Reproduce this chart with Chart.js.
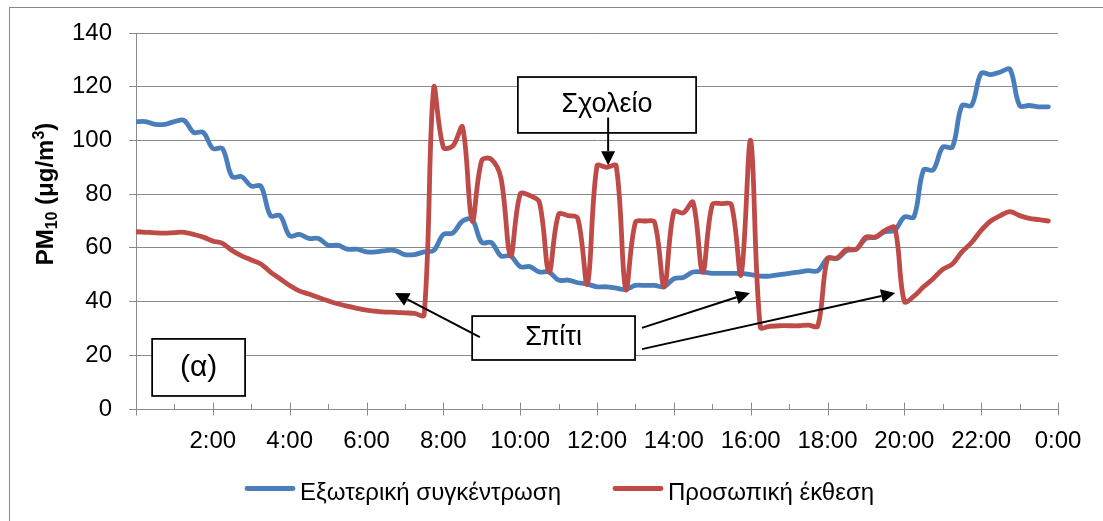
<!DOCTYPE html>
<html><head><meta charset="utf-8">
<script src="https://cdn.jsdelivr.net/npm/chart.js@4.4.0/dist/chart.umd.min.js"></script>
<style>html,body{margin:0;padding:0;background:#fff;overflow:hidden}canvas{display:block}</style>
</head><body><canvas id="c" width="1103" height="521"></canvas>
<script>
// ---- data (time of day in hours, 15-minute readings) ----
const hours = [0,0.25,0.5,0.75,1,1.25,1.5,1.75,2,2.25,2.5,2.75,3,3.25,3.5,3.75,
  4,4.25,4.5,4.75,5,5.25,5.5,5.75,6,6.25,6.5,6.75,7,7.25,7.5,7.75,
  8,8.25,8.5,8.75,9,9.25,9.5,9.75,10,10.25,10.5,10.75,11,11.25,11.5,11.75,
  12,12.25,12.5,12.75,13,13.25,13.5,13.75,14,14.25,14.5,14.75,15,15.25,15.5,15.75,
  16,16.25,16.5,16.75,17,17.25,17.5,17.75,18,18.25,18.5,18.75,19,19.25,19.5,19.75,
  20,20.25,20.5,20.75,21,21.25,21.5,21.75,22,22.25,22.5,22.75,23,23.25,23.5,23.75];
const outdoor = [107,107,106,106,107,107.5,103,103,97,97,86.5,86.5,83,83,72,72,
  64.5,65,63.5,63.5,61,61,59.5,59.5,58.5,58.5,59,59,57.5,57.5,58.5,59,
  65,65.5,70,70.5,62,62,57,57,53,53,51,51,48,48,47,46.5,
  45.5,45.5,45,44.5,46,46,46,45.5,48.5,49,51,51,50.5,50.5,50.5,50.5,
  50,49.5,49.5,50,50.5,51,51.5,51.5,56,56,59,59.5,63.5,64,66,66.5,
  71.5,71.5,89,89,97.5,97.5,113,113,125,124.5,125.5,126.5,113,113,112.5,112.5];
const personal = [66,65.8,65.6,65.5,65.7,65.8,65,64,62.5,61.7,59,57,55.5,54,51,48.5,
  46,44,42.8,41.5,40.3,39.2,38.3,37.5,36.8,36.4,36.1,36,35.8,35.6,35,119.5,
  97.5,98,105,70,92.5,93,86,57,80,79.5,77,51,72.5,72,71,46.5,
  90.5,90,90.5,44.5,69.5,70,69.5,45.5,73.5,73,77,51,76,76.5,76,50,
  100,30.5,30.8,31,31,31,31.2,31,56,56.3,59.5,59.5,64,64,66.5,67.5,
  40,42,45.5,48.5,52,54,58.5,62,66.5,70,72,73.5,72,71,70.5,70];
const seriesNames = ['Εξωτερική συγκέντρωση', 'Προσωπική έκθεση'];
const seriesColors = ['#4a7ebb', '#be4b48'];
const xTickHours = [0,2,4,6,8,10,12,14,16,18,20,22,24];
const xTickLabels = ['','2:00','4:00','6:00','8:00','10:00','12:00','14:00','16:00','18:00','20:00','22:00','0:00'];
const xMinorHours = [1,3,5,7,9,11,13,15,17,19,21,23];
const yMin = 0, yMax = 140, yStep = 20;
const yTitleParts = [['PM',0],['10',1],[' (μg/m',0],['3',2],[')',0]];
// annotations in data units (hours, µg/m3)
const noteBoxes = [
  {text:'Σχολείο', x0:9.94, x1:14.58, y0:123.6, y1:102.8, size:27},
  {text:'Σπίτι',   x0:8.75, x1:12.99, y0:34.6,  y1:18.25, size:27},
  {text:'(α)',     x0:0.42, x1:2.84,  y0:26.1,  y1:4.85,  size:30}
];
const noteArrows = [
  {x0:12.29, y0:108.5, x1:12.29, y1:90.8},
  {x0:8.95,  y0:26.8,  x1:6.74,  y1:43.2},
  {x0:13.17, y0:30.2,  x1:15.98, y1:43.2},
  {x0:13.17, y0:22.3,  x1:19.76, y1:43.2}
];

const FONT = "'Liberation Sans', Arial, sans-serif";
const gridColor = '#8a8a8a';
const toXY = (xs, ys) => xs.map((x, i) => ({x: x, y: ys[i]}));

const decor = {
  id: 'decor',
  afterDraw(chart) {
    const ctx = chart.ctx, xs = chart.scales.x, ys = chart.scales.y, ca = chart.chartArea;
    ctx.save();
    // outer frame
    ctx.strokeStyle = gridColor; ctx.lineWidth = 1;
    ctx.strokeRect(9.5, 7.5, 1120, 530);
    // x tick marks
    const yb = Math.round(ca.bottom) + 0.5;
    ctx.beginPath();
    xTickHours.forEach(h => { const px = Math.round(xs.getPixelForValue(h)) + 0.5; ctx.moveTo(px, yb - 7); ctx.lineTo(px, yb + 6); });
    xMinorHours.forEach(h => { const px = Math.round(xs.getPixelForValue(h)) + 0.5; ctx.moveTo(px, yb - 5.5); ctx.lineTo(px, yb); });
    ctx.stroke();
    // y axis title
    ctx.save();
    ctx.translate(45, 194);
    ctx.rotate(-Math.PI / 2);
    ctx.fillStyle = '#000'; ctx.textBaseline = 'alphabetic'; ctx.textAlign = 'left';
    const fonts = ['bold 24px ' + FONT, 'bold 16px ' + FONT, 'bold 16px ' + FONT];
    const offs = [0, 4, -9];
    let total = 0;
    yTitleParts.forEach(p => { ctx.font = fonts[p[1]]; total += ctx.measureText(p[0]).width; });
    let cx = -total / 2;
    yTitleParts.forEach(p => { ctx.font = fonts[p[1]]; ctx.fillText(p[0], cx, 8 + offs[p[1]]); cx += ctx.measureText(p[0]).width; });
    ctx.restore();
    // legend
    ctx.font = '24px ' + FONT; ctx.textBaseline = 'alphabetic'; ctx.textAlign = 'left'; ctx.fillStyle = '#000';
    const legX = [245, 613];
    seriesNames.forEach((name, i) => {
      ctx.strokeStyle = seriesColors[i]; ctx.lineWidth = 4.8; ctx.lineCap = 'round';
      ctx.beginPath(); ctx.moveTo(legX[i] + 2, 488.5); ctx.lineTo(legX[i] + 48, 488.5); ctx.stroke();
      ctx.fillText(name, legX[i] + 55, 499.5);
    });
    ctx.lineCap = 'butt';
    // annotation boxes
    noteBoxes.forEach(b => {
      const x0 = xs.getPixelForValue(b.x0), x1 = xs.getPixelForValue(b.x1);
      const y0 = ys.getPixelForValue(b.y0), y1 = ys.getPixelForValue(b.y1);
      ctx.fillStyle = '#fff'; ctx.fillRect(x0, y0, x1 - x0, y1 - y0);
      ctx.strokeStyle = '#000'; ctx.lineWidth = 1.75; ctx.strokeRect(x0, y0, x1 - x0, y1 - y0);
      ctx.fillStyle = '#000'; ctx.font = b.size + 'px ' + FONT; ctx.textAlign = 'center'; ctx.textBaseline = 'middle';
      ctx.fillText(b.text, (x0 + x1) / 2, (y0 + y1) / 2);
    });
    // arrows
    noteArrows.forEach(a => {
      const x0 = xs.getPixelForValue(a.x0), x1 = xs.getPixelForValue(a.x1);
      const y0 = ys.getPixelForValue(a.y0), y1 = ys.getPixelForValue(a.y1);
      const ang = Math.atan2(y1 - y0, x1 - x0), L = 14, W = 7;
      const bx = x1 - L * Math.cos(ang), by = y1 - L * Math.sin(ang);
      ctx.strokeStyle = '#000'; ctx.lineWidth = 2;
      ctx.beginPath(); ctx.moveTo(x0, y0); ctx.lineTo(bx, by); ctx.stroke();
      ctx.fillStyle = '#000'; ctx.beginPath();
      ctx.moveTo(x1, y1);
      ctx.lineTo(bx + W * Math.sin(ang), by - W * Math.cos(ang));
      ctx.lineTo(bx - W * Math.sin(ang), by + W * Math.cos(ang));
      ctx.closePath(); ctx.fill();
    });
    ctx.restore();
  }
};

new Chart(document.getElementById('c'), {
  type: 'line',
  data: { datasets: [
    { label: seriesNames[0], data: toXY(hours, outdoor), borderColor: seriesColors[0], borderWidth: 4.8,
      pointRadius: 0, tension: 0.35, fill: false, borderCapStyle: 'round', borderJoinStyle: 'round', order: 2 },
    { label: seriesNames[1], data: toXY(hours, personal), borderColor: seriesColors[1], borderWidth: 4.8,
      pointRadius: 0, tension: 0.35, fill: false, borderCapStyle: 'round', borderJoinStyle: 'round', order: 1 }
  ]},
  options: {
    responsive: false, animation: false, devicePixelRatio: 1,
    layout: { padding: { left: 0, right: 45, top: 33, bottom: 0 } },
    plugins: { legend: { display: false }, tooltip: { enabled: false } },
    scales: {
      x: {
        type: 'linear', min: 0, max: 24,
        afterBuildTicks: s => { s.ticks = xTickHours.map(v => ({ value: v })); },
        afterFit: s => { s.height = 112; },
        ticks: { autoSkip: false, maxRotation: 0, color: '#000', padding: 18,
          font: { family: FONT, size: 24 },
          callback: (v, i) => xTickLabels[i] },
        grid: { drawOnChartArea: false, drawTicks: false },
        border: { display: true, color: gridColor, width: 1 }
      },
      y: {
        min: yMin, max: yMax,
        ticks: { stepSize: yStep, color: '#000', padding: 17, font: { family: FONT, size: 24 } },
        grid: { color: gridColor, lineWidth: 1, tickLength: 7, drawTicks: true, tickColor: gridColor },
        border: { display: true, color: gridColor, width: 1 },
        afterFit: s => { s.width = 136; }
      }
    }
  },
  plugins: [decor]
});
</script>
</body></html>
